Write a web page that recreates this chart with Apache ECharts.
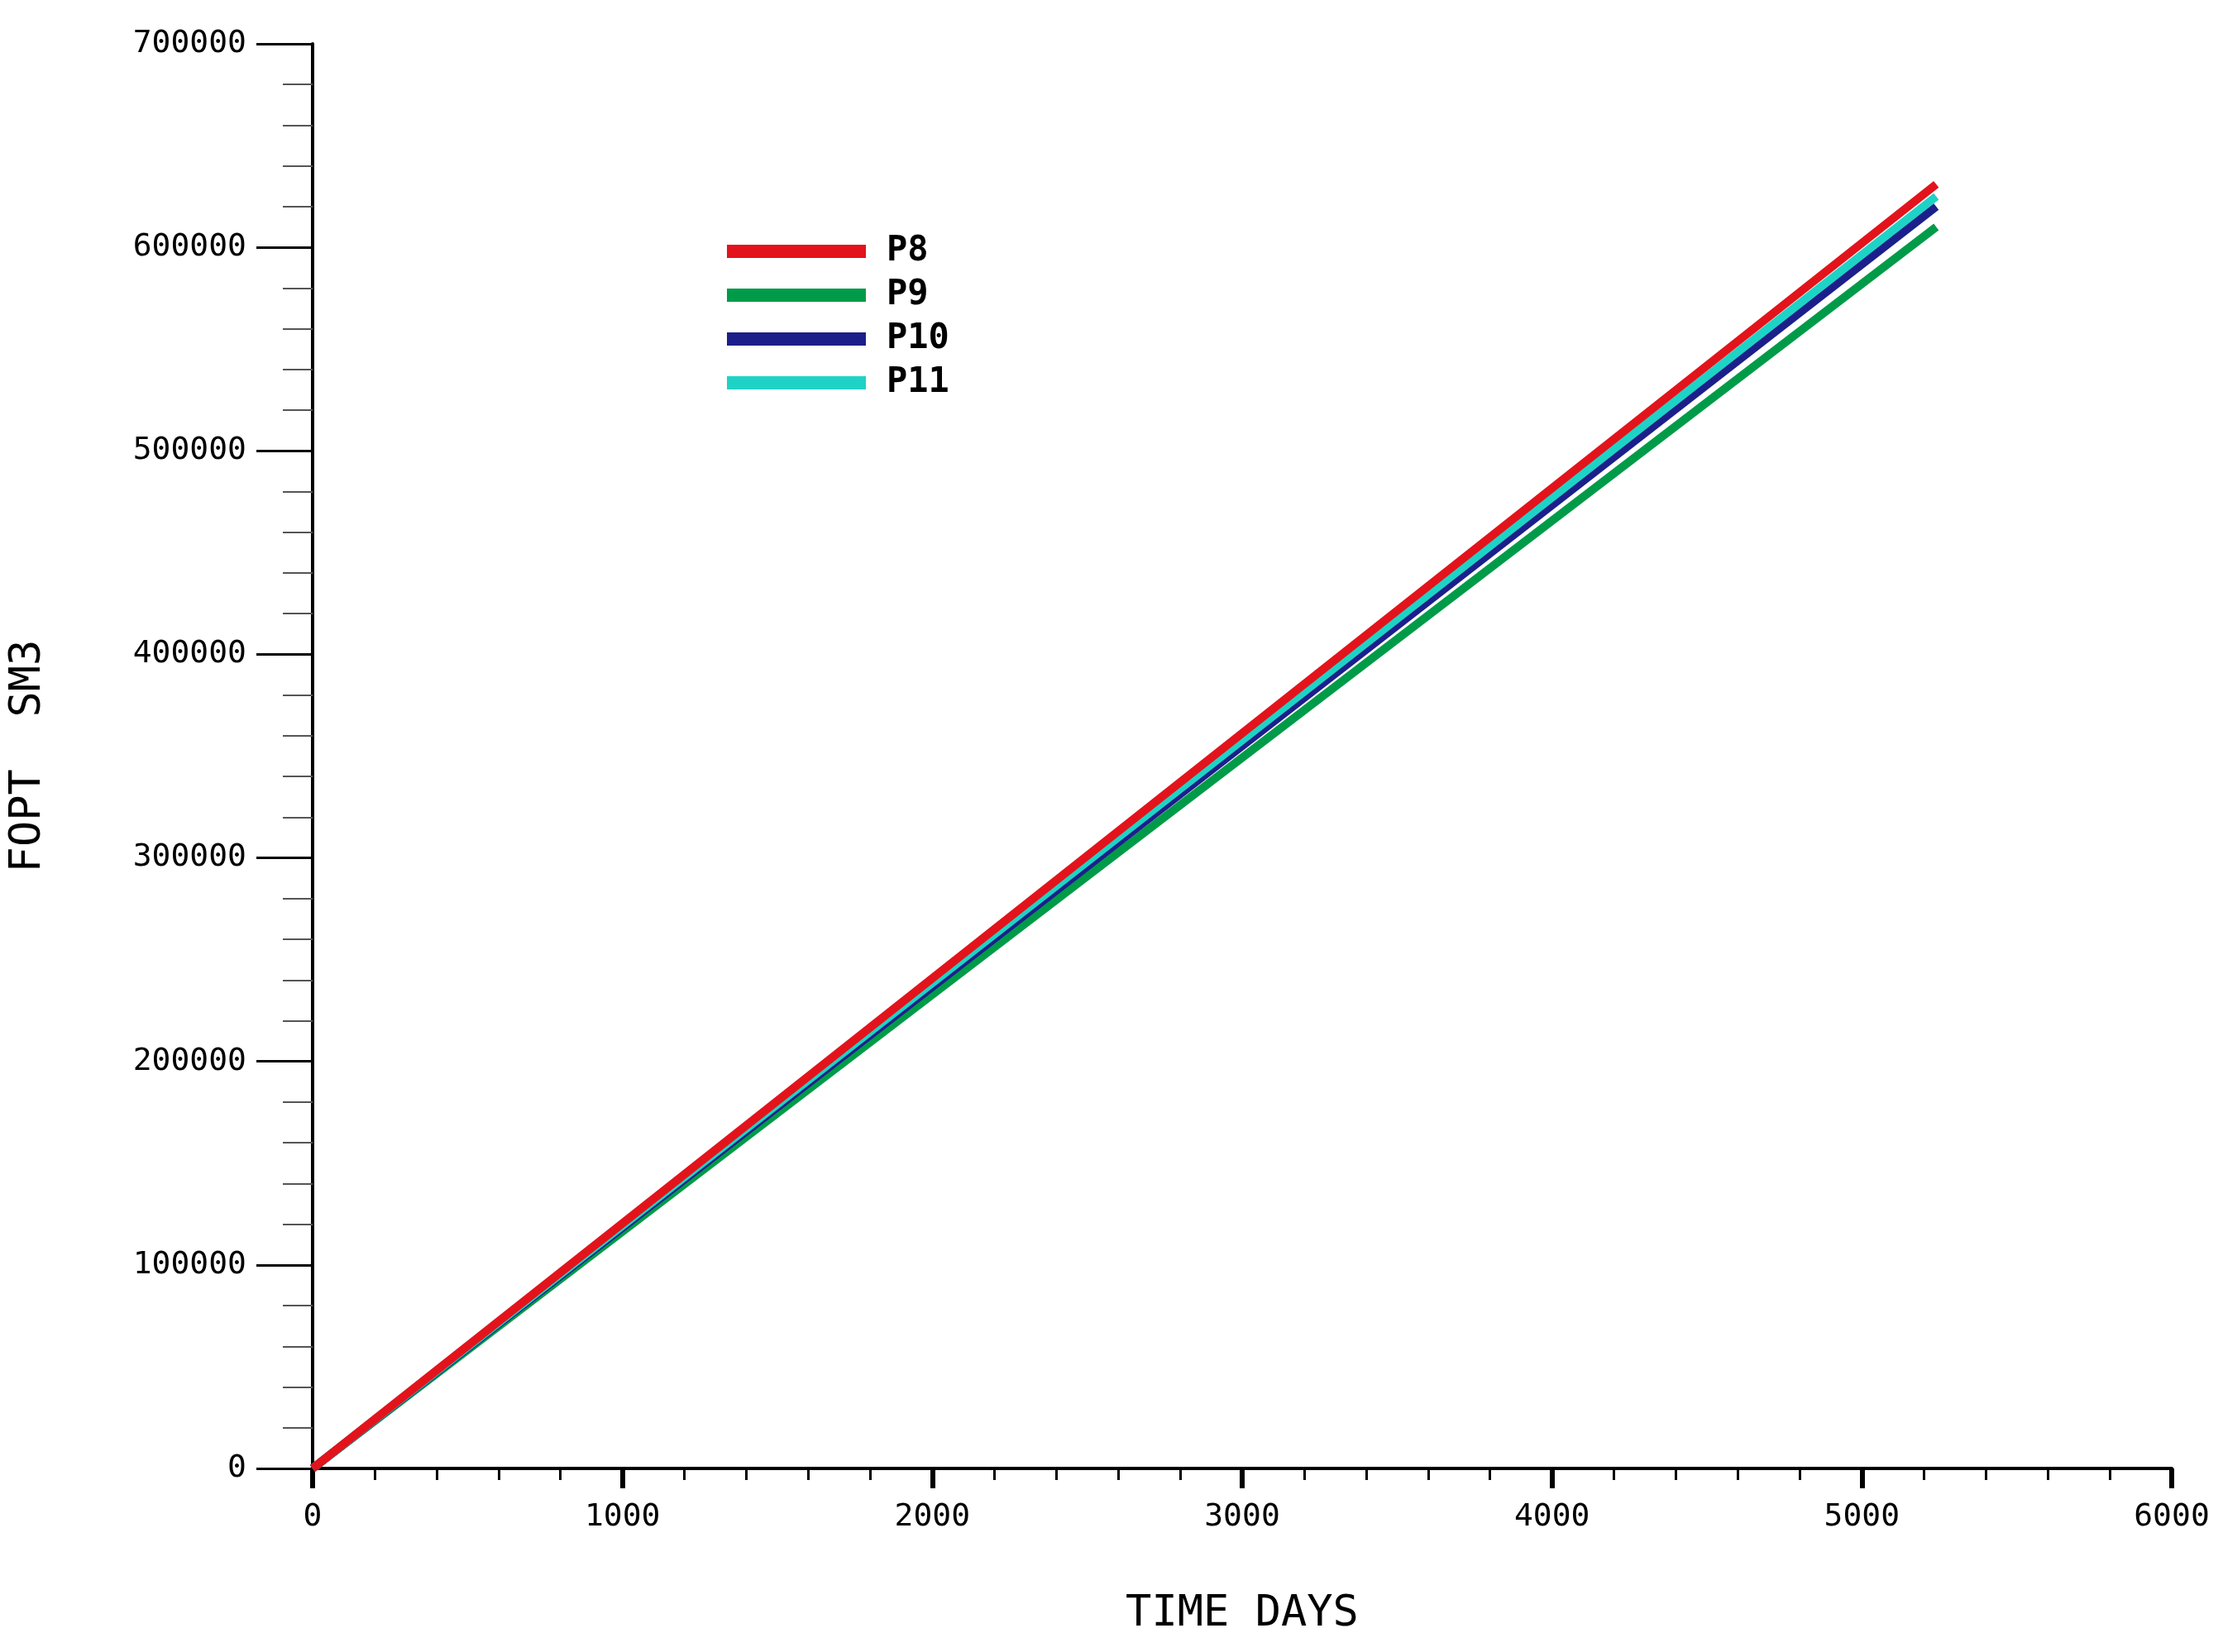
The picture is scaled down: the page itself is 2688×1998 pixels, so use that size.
<!DOCTYPE html>
<html>
<head>
<meta charset="utf-8">
<script src="https://cdn.jsdelivr.net/npm/echarts@6/dist/echarts.min.js"></script>
<style>html,body{margin:0;background:#fff}#chart{width:2688px;height:1998px}</style>
</head>
<body>
<div id="chart"></div>
<script>
// 时间 (days) and FOPT values
const days = [0, 5240];
const p8 = [0, 631000];
const p9 = [0, 610000];
const p10 = [0, 620000];
const p11 = [0, 625000];
const names = ['P8', 'P9', 'P10', 'P11'];
const colors = ['#e3131b', '#009b48', '#1c1f8a', '#1ed3c6'];

let myChart = echarts.init(document.getElementById('chart'));
const mono = 'DejaVu Sans Mono';

function mk(name, vals, i) {
    return {
        name: name,
        type: 'line',
        data: days.map((d, k) => [d, vals[k]]),
        showSymbol: false,
        lineStyle: {width: 10, color: colors[i]},
        itemStyle: {color: colors[i]},
        z: i === 0 ? 6 : 2 + i
    };
}

option = {
    animation: false,
    backgroundColor: '#fff',
    grid: {left: 373, right: 62, top: 53, bottom: 222},
    legend: {
        orient: 'vertical',
        left: 874,
        top: 278,
        itemWidth: 168,
        itemHeight: 16,
        itemGap: 11,
        icon: 'rect',
        data: names,
        textStyle: {fontFamily: mono, fontWeight: 'bold', fontSize: 42, color: '#000', padding: [0, 0, 0, 20]}
    },
    xAxis: {
        type: 'value',
        min: 0, max: 6000, interval: 1000,
        name: 'TIME DAYS',
        nameLocation: 'middle',
        nameGap: 150,
        nameTextStyle: {fontFamily: mono, fontSize: 52, color: '#000'},
        axisLine: {lineStyle: {color: '#000', width: 4}},
        axisTick: {inside: false, length: 24, lineStyle: {color: '#000', width: 6}},
        minorTick: {show: true, splitNumber: 5, length: 14, lineStyle: {color: '#000', width: 3}},
        axisLabel: {fontFamily: mono, fontSize: 38, color: '#000', margin: 40, formatter: v => String(v)},
        splitLine: {show: false}
    },
    yAxis: {
        type: 'value',
        min: 0, max: 700000, interval: 100000,
        name: 'FOPT  SM3',
        nameLocation: 'middle',
        nameGap: 318,
        nameTextStyle: {fontFamily: mono, fontSize: 52, color: '#000'},
        axisLine: {lineStyle: {color: '#000', width: 4}},
        axisTick: {length: 68, lineStyle: {color: '#000', width: 3}},
        minorTick: {show: true, splitNumber: 5, length: 36, lineStyle: {color: '#555', width: 2}},
        axisLabel: {fontFamily: mono, fontSize: 38, color: '#000', margin: 80, formatter: v => String(v)},
        splitLine: {show: false}
    },
    series: [mk('P8', p8, 0), mk('P9', p9, 1), mk('P10', p10, 2), mk('P11', p11, 3)]
};
myChart.setOption(option);
</script>
</body>
</html>
